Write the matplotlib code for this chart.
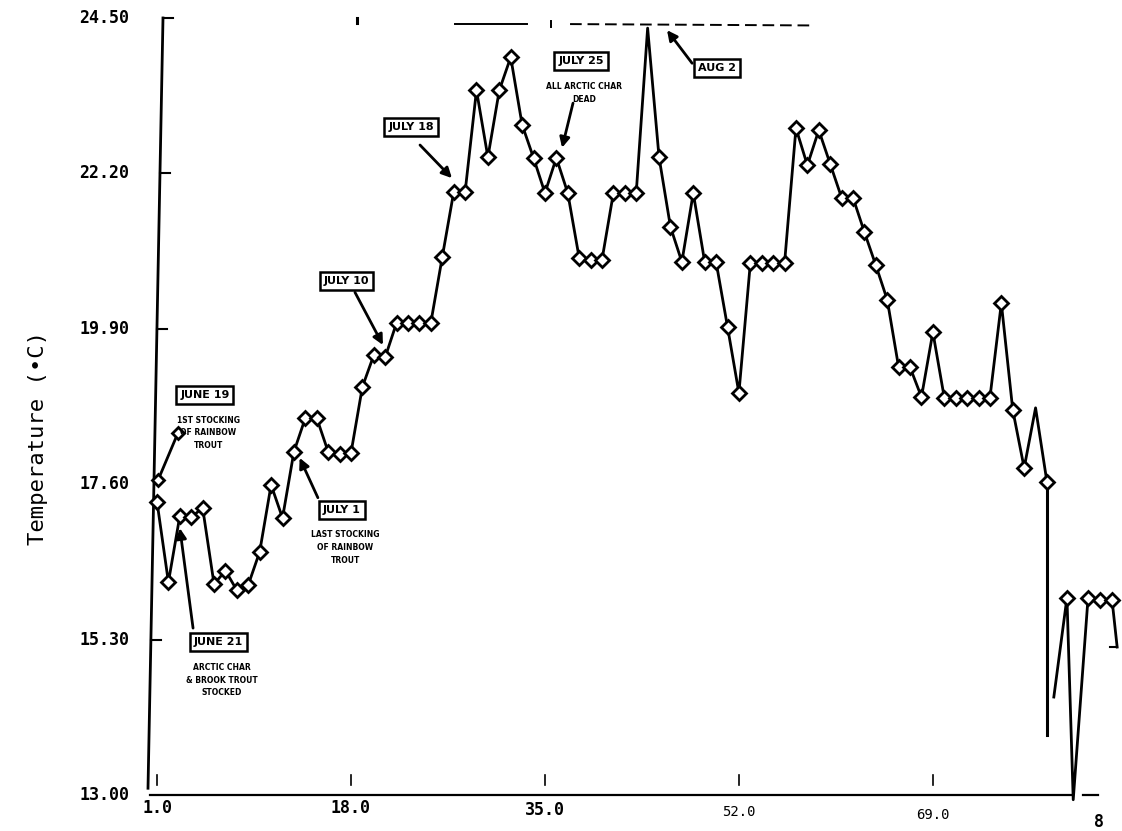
import matplotlib
matplotlib.use("Agg")
import matplotlib.pyplot as plt

# Daily water temperature, day 1 = start of record
days = list(range(1, 80))
temps = [17.34, 16.15, 17.13, 17.11, 17.25, 16.12, 16.32, 16.03, 16.11, 16.60,
         17.59, 17.10, 18.08, 18.58, 18.58, 18.08, 18.05, 18.06, 19.04, 19.51,
         19.48, 19.99, 19.99, 19.99, 19.99, 20.96, 21.92, 21.92, 23.43, 22.44,
         23.43, 23.92, 22.92, 22.43, 21.91, 22.43, 21.91, 20.95, 20.92, 20.92,
         21.91, 21.91, 21.91, 24.35, 22.44, 21.41, 20.89, 21.91, 20.89, 20.89,
         19.93, 18.95, 20.87, 20.87, 20.87, 20.87, 22.87, 22.32, 22.84, 22.34,
         21.84, 21.84, 21.33, 20.84, 20.33, 19.33, 19.33, 18.89, 19.85, 18.88,
         18.88, 18.88, 18.88, 18.88, 20.28, 18.70, 17.84, 18.73, 17.63]
unmarked_days = [44, 78]

# Last readings after the logger gap
tail_days = [79.6, 80.75, 81.3, 82.6, 83.65, 84.7, 85.15]
tail_temps = [14.45, 15.92, 12.93, 15.92, 15.89, 15.89, 15.19]
tail_marked = [1, 3, 4, 5]

y_ticks = [13.00, 15.30, 17.60, 19.90, 22.20, 24.50]
y_labels = ["13.00", "15.30", "17.60", "19.90", "22.20", "24.50"]
x_ticks = [1, 18, 35, 52, 69]
x_labels = ["1.0", "18.0", "35.0", "52.0", "69.0"]
x_edge_label = (83.6, "8")

# Field notes: (label, extra lines, box centre, pointer tail, pointer head)
notes = [
    ("JUNE 19", ["1ST STOCKING", "OF RAINBOW", "TROUT"], (5.2, 18.92), (2.84, 18.36), (1.09, 17.66)),
    ("JUNE 21", ["ARCTIC CHAR", "& BROOK TROUT", "STOCKED"], (6.35, 15.26), (4.16, 15.47), (3.0, 16.95)),
    ("JULY 1", ["LAST STOCKING", "OF RAINBOW", "TROUT"], (17.2, 17.22), (15.1, 17.40), (13.5, 17.99)),
    ("JULY 10", [], (17.6, 20.61), (18.35, 20.44), (20.8, 19.66)),
    ("JULY 18", [], (23.26, 22.89), (24.05, 22.62), (26.85, 22.13)),
    ("JULY 25", ["ALL ARCTIC CHAR", "DEAD"], (38.16, 23.86), (37.46, 23.24), (36.5, 22.58)),
    ("AUG 2", [], (50.08, 23.76), (47.9, 23.83), (45.7, 24.32)),
]

W, H = 1122, 831
fig = plt.figure(figsize=(W / 100, H / 100), dpi=100)
fig.patch.set_facecolor("white")

ax_left_px, ax_bottom_px, ax_top_px = 150, 795, 18
ax = fig.add_axes([ax_left_px / W, (H - ax_bottom_px) / H,
                   (W - ax_left_px) / W, (ax_bottom_px - ax_top_px) / H])
px_per_day = 11.41
ax.set_xlim(1 - 7 / px_per_day, 1 + (W - 157) / px_per_day)
ax.set_ylim(13.0, 24.5)
for s in ax.spines.values():
    s.set_visible(False)
ax.set_xticks([])
ax.set_yticks([])

ink = "black"
mstyle = dict(ls="none", marker="D", ms=7, mfc="white", mec=ink, mew=2.0,
              clip_on=False, zorder=4)

# Temperature trace
ax.plot(days, temps, color=ink, lw=2.0, clip_on=False, zorder=3)
mk_days = [d for d in days if d not in unmarked_days]
mk_temps = [t for d, t in zip(days, temps) if d not in unmarked_days]
ax.plot(mk_days, mk_temps, **mstyle)

# Drop at the end of the record and the final readings
ax.plot([days[-1], days[-1]], [temps[-1], 13.89], color=ink, lw=2.2, zorder=3)
ax.plot(tail_days, tail_temps, color=ink, lw=2.0, clip_on=False, zorder=3)
ax.plot([tail_days[i] for i in tail_marked],
        [tail_temps[i] for i in tail_marked], **mstyle)
ax.plot([tail_days[-1] - 0.6, tail_days[-1]], [tail_temps[-1]] * 2, color=ink,
        lw=1.5, clip_on=False)

# Axes frame drawn by hand
x0, x1 = ax.get_xlim()
ax.plot([x0, 81.3], [13.0, 13.0], color=ink, lw=1.6, clip_on=False)
ax.plot([82.2, 83.5], [13.0, 13.0], color=ink, lw=1.6, clip_on=False)
left_top = (1 + (163 - 157) / px_per_day, 24.5)
left_bot = (1 + (148 - 157) / px_per_day, 13.1)
ax.plot([left_top[0], left_bot[0]], [left_top[1], left_bot[1]], color=ink,
        lw=2.0, clip_on=False)


def left_axis_x(t):
    f = (t - left_bot[1]) / (left_top[1] - left_bot[1])
    return left_bot[0] + f * (left_top[0] - left_bot[0])


for t, lab in zip(y_ticks, y_labels):
    if t not in (13.0, 17.6):
        xa = left_axis_x(t)
        ax.plot([xa, xa + 0.9], [t, t], color=ink, lw=1.5, clip_on=False)
    ax.text(-0.0215, t, lab, transform=ax.get_yaxis_transform(), ha="right",
            va="center", family="DejaVu Sans Mono", fontweight="bold",
            fontsize=12)

xtr = ax.get_xaxis_transform()
label_y = [-0.017, -0.017, -0.019, -0.022, -0.026]
for x, lab, ly in zip(x_ticks, x_labels, label_y):
    ax.plot([x, x], [0.013, 0.026], transform=xtr, color=ink, lw=1.2,
            clip_on=False)
    light = lab in ("52.0", "69.0")
    ax.text(x, ly, lab, transform=xtr, ha="center", va="center",
            family="DejaVu Sans Mono", fontweight="normal" if light else "bold",
            fontsize=10 if light else 12, clip_on=False)
ax.text(x_edge_label[0], -0.035, x_edge_label[1], transform=xtr, ha="center",
        va="center", family="DejaVu Sans Mono", fontweight="bold", fontsize=12)

ax.text(-0.115, 0.46, "Temperature (\u2022C)", transform=ax.transAxes,
        rotation=90, ha="center", va="center", family="DejaVu Sans Mono",
        fontsize=16)

# Faint frame remnants along the top
ax.plot([27.1, 33.4], [24.41, 24.41], color=ink, lw=1.4, clip_on=False)
ax.plot([37.2, 58.2], [24.41, 24.39], color=ink, lw=1.4, ls=(0, (6, 3)),
        clip_on=False)
ax.plot([35.5, 35.5], [24.36, 24.46], color=ink, lw=1.4, clip_on=False)
ax.plot([18.5, 18.5], [24.42, 24.5], color=ink, lw=2.2, clip_on=False)

# Field notes with pointers
for i, (label, lines, centre, tail, head) in enumerate(notes):
    if i == 0:
        # June 19 pointer: plain line with open diamonds at both ends
        ax.plot([tail[0], head[0]], [tail[1], head[1]], color=ink, lw=2.0,
                zorder=5)
        ax.plot([tail[0], head[0]], [tail[1], head[1]], **dict(mstyle, ms=6.5, zorder=6))
    else:
        ax.annotate("", xy=head, xytext=tail,
                    arrowprops=dict(arrowstyle="-|>,head_length=0.6,head_width=0.3",
                                    color=ink, lw=2.0, shrinkA=0, shrinkB=0),
                    zorder=5)
    ax.text(centre[0], centre[1], label, ha="center", va="center",
            family="DejaVu Sans", fontweight="bold", fontsize=8,
            bbox=dict(boxstyle="square,pad=0.35", fc="white", ec=ink, lw=1.8),
            zorder=6)
    for k, line in enumerate(lines):
        ax.text(centre[0] + 0.3, centre[1] - 0.37 - 0.19 * k, line, ha="center",
                va="center", family="DejaVu Sans", fontweight="bold",
                fontsize=5.5, zorder=6)

fig.savefig("out.png", dpi=100, facecolor="white")
